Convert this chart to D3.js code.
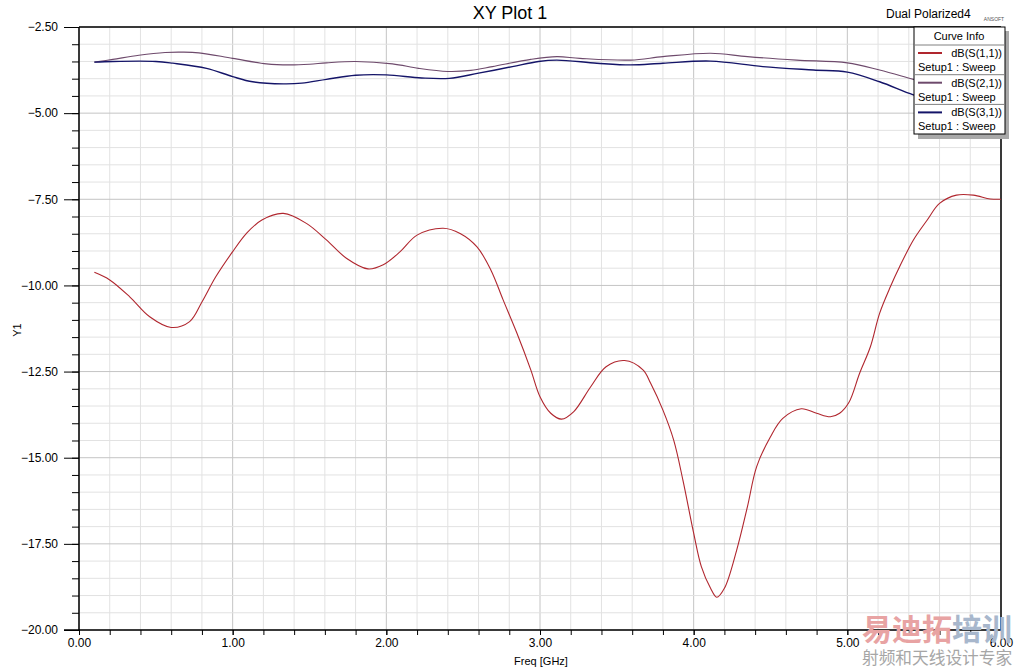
<!DOCTYPE html>
<html lang="en">
<head>
<meta charset="utf-8">
<title>XY Plot 1</title>
<script src="https://cdn.jsdelivr.net/npm/d3@7"></script>
<style>
  body { margin: 0; background: #fff; }
  svg { font-family: Arial, "Liberation Sans", sans-serif; }
  .axis path { display: none; }
  .axis line { stroke: #000; }
  .axis text { font-size: 12px; fill: #000; }
</style>
</head>
<body>
<script>
// sampled off the plot, freq in GHz, values in dB
var s11Freq = [0.10,0.20,0.33,0.46,0.60,0.72,0.80,0.89,1.00,1.09,1.19,1.33,1.48,1.61,1.74,1.88,1.98,2.09,2.20,2.37,2.48,2.59,2.68,2.76,2.85,2.94,3.00,3.07,3.14,3.22,3.33,3.43,3.55,3.67,3.72,3.80,3.87,3.93,4.00,4.05,4.11,4.15,4.20,4.28,4.35,4.41,4.50,4.58,4.70,4.80,4.89,4.95,5.01,5.08,5.15,5.21,5.28,5.34,5.43,5.52,5.60,5.71,5.82,5.93,6.00];
var s11Vals = [-9.62,-9.84,-10.33,-10.91,-11.22,-11.05,-10.48,-9.75,-9.02,-8.49,-8.10,-7.91,-8.20,-8.68,-9.21,-9.52,-9.40,-9.02,-8.54,-8.34,-8.49,-8.88,-9.55,-10.42,-11.39,-12.45,-13.23,-13.71,-13.88,-13.66,-12.94,-12.36,-12.18,-12.45,-12.84,-13.62,-14.49,-15.65,-17.19,-18.16,-18.79,-19.05,-18.79,-17.68,-16.42,-15.26,-14.39,-13.86,-13.58,-13.71,-13.81,-13.71,-13.40,-12.55,-11.78,-10.81,-10.04,-9.46,-8.68,-8.10,-7.62,-7.38,-7.38,-7.49,-7.50];

var s21Freq = [0.10,0.22,0.39,0.56,0.67,0.78,1.00,1.22,1.37,1.50,1.61,1.80,2.04,2.21,2.40,2.55,2.69,2.94,3.11,3.26,3.59,3.80,4.11,4.35,4.67,5.00,5.21,5.43,5.70,6.00];
var s21Vals = [-3.52,-3.44,-3.32,-3.24,-3.23,-3.25,-3.41,-3.57,-3.60,-3.58,-3.54,-3.50,-3.57,-3.70,-3.79,-3.76,-3.65,-3.44,-3.36,-3.41,-3.46,-3.36,-3.26,-3.36,-3.46,-3.54,-3.75,-4.02,-4.35,-4.70];

var s31Freq = [0.10,0.22,0.50,0.61,0.83,1.00,1.13,1.33,1.45,1.61,1.80,2.00,2.23,2.41,2.60,2.82,2.99,3.11,3.37,3.59,3.80,4.11,4.45,4.78,5.00,5.21,5.43,5.70,6.00];
var s31Vals = [-3.52,-3.50,-3.50,-3.55,-3.70,-3.94,-4.09,-4.15,-4.13,-4.02,-3.90,-3.89,-3.98,-3.99,-3.84,-3.65,-3.50,-3.46,-3.55,-3.60,-3.55,-3.49,-3.65,-3.75,-3.81,-4.09,-4.47,-4.85,-5.20];

var xMajor = [0,1,2,3,4,5,6];
var yMajor = [-2.5,-5,-7.5,-10,-12.5,-15,-17.5,-20];
var curveNames = ["dB(S(1,1))","dB(S(2,1))","dB(S(3,1))"];
var curveColors = ["#b0262e","#6e4a6c","#141468"];

var W = 1022, H = 671;
var pl = 79, pr = 1001, pt = 27, pb = 630;

var svg = d3.select("body").append("svg")
    .attr("width", W).attr("height", H);

var x = d3.scaleLinear().domain([0, 6]).range([pl, pr]);
var y = d3.scaleLinear().domain([-20, -2.5]).range([pb, pt]);

var xMinor = d3.range(0, 6.001, 0.2).map(function(d){ return +d.toFixed(1); });
var yMinor = d3.range(-20, -2.499, 0.5);

// grid
svg.append("g").selectAll("line").data(xMinor).enter().append("line")
    .attr("x1", function(d){ return x(d); }).attr("x2", function(d){ return x(d); })
    .attr("y1", pt).attr("y2", pb)
    .attr("stroke", function(d){ return Math.abs(d - Math.round(d)) < 1e-6 ? "#c4c4c4" : "#e2e2e2"; });
svg.append("g").selectAll("line").data(yMinor).enter().append("line")
    .attr("y1", function(d){ return y(d); }).attr("y2", function(d){ return y(d); })
    .attr("x1", pl).attr("x2", pr)
    .attr("stroke", function(d){ return Math.abs(d/2.5 - Math.round(d/2.5)) < 1e-6 ? "#c4c4c4" : "#e2e2e2"; });

// axes
svg.append("g").attr("class", "axis")
    .attr("transform", "translate(" + pl + ",0)")
    .call(d3.axisLeft(y).tickValues(yMinor).tickSize(7).tickFormat(""));
svg.append("g").attr("class", "axis")
    .attr("transform", "translate(" + pl + ",0)")
    .call(d3.axisLeft(y).tickValues(yMajor).tickSize(15).tickPadding(6).tickFormat(d3.format(".2f")));
svg.append("g").attr("class", "axis")
    .attr("transform", "translate(0," + pb + ")")
    .call(d3.axisBottom(x).tickValues(xMinor).tickSize(5).tickFormat(""));
svg.append("g").attr("class", "axis")
    .attr("transform", "translate(0," + pb + ")")
    .call(d3.axisBottom(x).tickValues(xMajor).tickSize(5).tickPadding(3).tickFormat(d3.format(".2f")));

// frame
svg.append("line").attr("x1", pl).attr("x2", pl).attr("y1", pt).attr("y2", pb).attr("stroke", "#000").attr("stroke-width", 1.5);
svg.append("line").attr("x1", pl - 15).attr("x2", pr).attr("y1", pb).attr("y2", pb).attr("stroke", "#000").attr("stroke-width", 1.5);
svg.append("line").attr("x1", pl).attr("x2", pr).attr("y1", pt).attr("y2", pt).attr("stroke", "#000").attr("stroke-width", 1.5);
svg.append("line").attr("x1", pr).attr("x2", pr).attr("y1", pt).attr("y2", pb).attr("stroke", "#000").attr("stroke-width", 1.5);

// curves
var line = d3.line()
    .x(function(d){ return x(d[0]); })
    .y(function(d){ return y(d[1]); })
    .curve(d3.curveCatmullRom.alpha(0.5));

function zip(a, b){ return a.map(function(v, i){ return [v, b[i]]; }); }

svg.append("path").datum(zip(s21Freq, s21Vals))
    .attr("d", line).attr("fill", "none").attr("stroke", curveColors[1]).attr("stroke-width", 1.1);
svg.append("path").datum(zip(s31Freq, s31Vals))
    .attr("d", line).attr("fill", "none").attr("stroke", curveColors[2]).attr("stroke-width", 1.4);
svg.append("path").datum(zip(s11Freq, s11Vals))
    .attr("d", line).attr("fill", "none").attr("stroke", curveColors[0]).attr("stroke-width", 1.1);

// titles
svg.append("text").attr("x", 510).attr("y", 19).attr("text-anchor", "middle")
    .attr("font-size", "18px").text("XY Plot 1");
svg.append("text").attr("x", 886).attr("y", 17.5)
    .attr("font-size", "12px").text("Dual Polarized4");
svg.append("text").attr("x", 994).attr("y", 21).attr("text-anchor", "middle")
    .attr("font-size", "5px").attr("fill", "#555").text("ANSOFT");
svg.append("text").attr("transform", "translate(21,330) rotate(-90)")
    .attr("text-anchor", "middle").attr("font-size", "11px").text("Y1");
svg.append("text").attr("x", 541).attr("y", 665).attr("text-anchor", "middle")
    .attr("font-size", "11px").text("Freq [GHz]");

// legend
var lg = svg.append("g");
lg.append("rect").attr("x", 918).attr("y", 31).attr("width", 91).attr("height", 108).attr("fill", "#a9a9a9");
lg.append("rect").attr("x", 914).attr("y", 27).attr("width", 91).attr("height", 107)
    .attr("fill", "#fff").attr("stroke", "#000").attr("stroke-width", 1);
lg.append("text").attr("x", 959).attr("y", 40).attr("text-anchor", "middle")
    .attr("font-size", "11px").text("Curve Info");
curveNames.forEach(function(name, i){
    var y0 = 45 + i * 29.7;
    lg.append("line").attr("x1", 914).attr("x2", 1005).attr("y1", y0).attr("y2", y0).attr("stroke", "#808080");
    lg.append("line").attr("x1", 918).attr("x2", 942).attr("y1", y0 + 8).attr("y2", y0 + 8)
        .attr("stroke", curveColors[i]).attr("stroke-width", 2);
    lg.append("text").attr("x", 1002).attr("y", y0 + 12).attr("text-anchor", "end")
        .attr("font-size", "11px").text(name);
    lg.append("text").attr("x", 918).attr("y", y0 + 26)
        .attr("font-size", "11px").text("Setup1 : Sweep");
});

// watermark
var wm = svg.append("text").attr("x", 862).attr("y", 640)
    .attr("font-family", "'Noto Sans CJK SC'").attr("font-size", "30px").attr("font-weight", "bold");
wm.append("tspan").attr("fill", "#e8a3a3").text("易迪拓");
wm.append("tspan").attr("fill", "#a8b7cc").text("培训");
svg.append("text").attr("x", 862).attr("y", 664)
    .attr("font-family", "'Noto Sans CJK SC'").attr("font-size", "16.7px").attr("fill", "#a6a6a6")
    .text("射频和天线设计专家");
</script>
</body>
</html>
